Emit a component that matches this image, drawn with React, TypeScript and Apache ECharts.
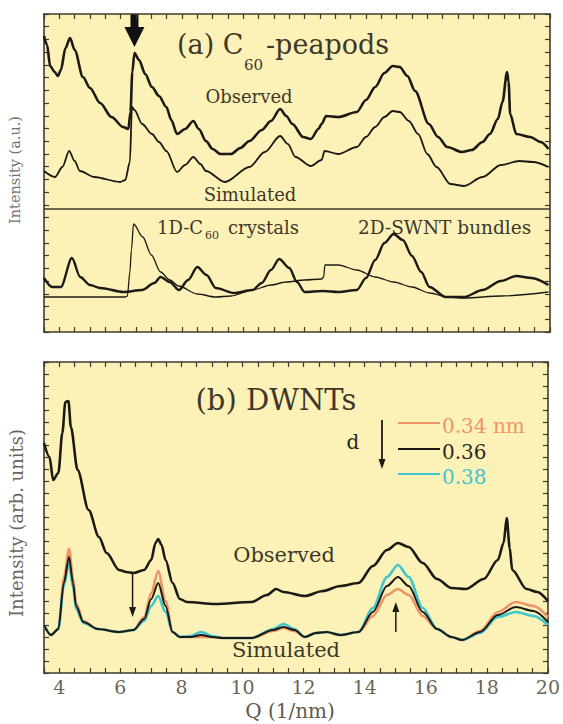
import React, { useEffect, useRef } from "react";
import * as echarts from "echarts";

// ---------- Panel (a): C60-peapods ----------
const obsA_Q = [3.5,3.6,3.7,3.85,3.95,4.05,4.2,4.35,4.5,4.77,5.0,5.33,5.7,6.08,6.25,6.32,6.38,6.45,6.6,6.8,7.02,7.25,7.49,7.65,7.84,8.1,8.37,8.55,8.78,9.0,9.25,9.6,9.9,10.2,10.6,10.9,11.2,11.4,11.6,11.95,12.2,12.45,12.55,12.7,13.1,13.7,14.0,14.3,14.6,14.87,15.1,15.35,15.6,16.05,16.35,16.65,17.13,17.45,17.8,18.04,18.3,18.45,18.6,18.65,18.7,18.9,19.35,19.7,19.95];
const obsA_I = [296,287,266,260,256,262,284,294,282,255,244,229,215,205,203,220,260,279,272,258,245,236,225,212,198,203,211,203,191,183,178,178,184,191,202,211,223,216,208,195,193,203,208,216,215,220,232,245,259,266,265,256,241,208,195,185,180,182,190,198,213,230,260,250,218,198,195,190,183];

const simA_Q = [3.5,3.86,4.1,4.32,4.5,4.67,5.14,5.98,6.15,6.3,6.37,6.45,6.7,7.02,7.25,7.49,7.84,8.1,8.37,8.6,8.78,9.4,10.2,10.7,11.2,11.45,11.7,12.2,12.55,12.65,13.1,13.7,14.0,14.3,14.6,14.87,15.1,15.4,15.7,16.0,16.3,16.75,17.2,17.8,18.4,19.0,19.45,19.95];
const simA_I = [161,155,165,181,171,161,155,150,152,170,225,222,208,198,190,181,160,167,175,168,161,150,165,180,196,188,175,166,172,181,178,185,195,205,215,221,220,211,198,178,165,148,146,155,167,171,170,165];

const c1D_Q = [3.5,6.15,6.22,6.3,6.35,6.42,6.72,7.0,7.3,7.6,7.89,8.5,9.1,9.6,10.3,10.9,11.4,12.0,12.55,12.62,12.66,13.1,13.7,14.3,14.9,15.5,16.07,16.66,17.2,18.4,19.95];
const c1D_I = [35,35,36,60,82,108,95,77,60,52,46,38,35,36,42,47,50,52,53,55,67,67,62,55,50,45,39,35,34,36,40];

const c2D_Q = [3.5,3.77,4.05,4.41,4.68,5.0,5.33,6.1,6.7,7.1,7.3,7.6,7.9,8.2,8.5,8.8,9.1,9.7,10.3,10.6,10.9,11.17,11.5,11.75,12.0,12.6,13.1,13.7,14.0,14.3,14.6,14.9,15.2,15.5,15.8,16.07,16.6,17.2,17.8,18.4,18.9,19.4,19.95];
const c2D_I = [54,45,45,74,55,47,44,40,42,49,55,50,42,52,65,57,44,39,42,49,62,73,64,50,40,41,40,42,54,72,89,98,92,76,60,45,35,35,42,51,56,54,47];

const dividerA = 123;

// ---------- Panel (b): DWNTs ----------
const obsB_Q = [3.5,3.68,3.8,3.97,4.1,4.2,4.3,4.38,4.6,4.96,5.3,5.55,5.96,6.2,6.43,6.78,7.01,7.15,7.24,7.35,7.48,7.71,7.95,8.18,9.1,10.3,10.8,11.1,11.34,12.04,12.63,13.2,13.8,14.27,14.73,15.09,15.44,15.9,16.37,16.84,17.31,17.9,18.36,18.55,18.65,18.75,18.83,19.3,19.65,20];
const obsB_I = [230,216,193,200,240,271,272,246,203,163,136,120,103,101,100,103,113,130,134,128,113,90,74,71,69,71,78,84,81,77,82,87,90,107,123,130,126,110,94,85,84,94,113,130,155,125,103,84,81,72];

const simB_Q = [3.5,3.73,3.97,4.15,4.32,4.45,4.55,4.79,5.26,5.96,6.43,6.78,7.01,7.24,7.48,7.71,7.95,8.3,8.65,9.0,9.35,10.3,11.0,11.34,11.7,12.04,12.4,12.75,13.2,13.8,14.27,14.73,15.09,15.44,15.9,16.37,16.84,17.19,17.78,18.36,18.95,19.53,20];
const simB_034 = [48,38,44,95,124,95,70,52,44,41,43,56,80,102,72,41,36,36,36,36,35,35,42,45,42,36,40,41,38,41,57,78,84,78,57,44,36,33,42,61,71,67,56];
const simB_036 = [48,38,44,90,116,90,67,51,44,41,43,54,74,90,67,41,36,36,38,36,35,35,43,46,43,36,40,41,38,41,61,87,96,87,61,44,36,33,41,58,66,62,51];
const simB_038 = [48,38,44,87,110,86,64,50,44,41,43,52,67,77,61,41,36,37,41,37,35,35,44,49,44,36,40,41,38,41,65,96,108,96,65,44,36,33,40,56,61,57,48];

const legendLabels = ["0.34 nm", "0.36", "0.38"];
const xTickLabels = [4, 6, 8, 10, 12, 14, 16, 18, 20];

const pairs = (q: number[], v: number[]) => q.map((x, i) => [x, v[i]]);

const INK = "#1c1a14";
const FRAME = "#3f3a2c";
const ORANGE = "#EE9468";
const CYAN = "#3EC6CE";
const BG = "#FCF1B7";
const FONT = "DejaVu Serif";
const TXT = "#3e382a";

export default function App() {
  const ref = useRef<HTMLDivElement>(null);
  useEffect(() => {
    document.body.style.margin = "0";
    const chart = echarts.init(ref.current!, null, { renderer: "svg" });

    const xCommon = (gridIndex: number, position: string, labels: boolean) => ({
      type: "value",
      gridIndex,
      position,
      min: 3.5,
      max: 20,
      interval: 0.5,
      axisLine: { show: true, onZero: false, lineStyle: { color: FRAME, width: 1.6 } },
      axisTick: { show: true, inside: true, length: 5, lineStyle: { color: FRAME, width: 1.2 } },
      axisLabel: labels
        ? {
            show: true,
            margin: 4,
            fontSize: 19,
            fontFamily: FONT,
            color: "#6b6658",
            formatter: (v: number) => (xTickLabels.indexOf(v) >= 0 ? String(v) : ""),
          }
        : { show: false },
      splitLine: { show: false },
    });
    const yCommon = (gridIndex: number, position: string, max: number, interval: number) => ({
      type: "value",
      gridIndex,
      position,
      min: 0,
      max,
      interval,
      axisLine: { show: true, onZero: false, lineStyle: { color: FRAME, width: 1.6 } },
      axisTick: { show: true, inside: true, length: 5, lineStyle: { color: FRAME, width: 1.2 } },
      axisLabel: { show: false },
      splitLine: { show: false },
    });

    const line = (name: string, data: number[][], xi: number, yi: number, color: string, width: number, extra: any = {}) => ({
      name,
      type: "line",
      xAxisIndex: xi,
      yAxisIndex: yi,
      data,
      showSymbol: false,
      smooth: 0.3,
      smoothMonotone: "x",
      lineStyle: { color, width },
      itemStyle: { color },
      silent: true,
      ...extra,
    });

    chart.setOption({
      animation: false,
      backgroundColor: "#ffffff",
      grid: [
        { left: 44, top: 14, width: 506, height: 318, show: true, backgroundColor: BG, borderWidth: 0 },
        { left: 44, top: 362, width: 506, height: 311, show: true, backgroundColor: BG, borderWidth: 0 },
      ],
      xAxis: [
        xCommon(0, "bottom", false),
        xCommon(0, "top", false),
        xCommon(1, "bottom", true),
        xCommon(1, "top", false),
      ],
      yAxis: [
        yCommon(0, "left", 318, 318 / 25),
        yCommon(0, "right", 318, 318 / 25),
        yCommon(1, "left", 311, 311 / 26),
        yCommon(1, "right", 311, 311 / 26),
      ],
      series: [
        line("Observed (a)", pairs(obsA_Q, obsA_I), 0, 0, INK, 2.6),
        line("Simulated (a)", pairs(simA_Q, simA_I), 0, 0, INK, 1.8),
        line("1D-C60 crystals", pairs(c1D_Q, c1D_I), 0, 0, INK, 1.3, {
          markLine: {
            silent: true,
            symbol: "none",
            label: { show: false },
            lineStyle: { color: FRAME, width: 1.6, type: "solid" },
            data: [{ yAxis: dividerA }],
          },
        }),
        line("2D-SWNT bundles", pairs(c2D_Q, c2D_I), 0, 0, INK, 2.4),
        line("0.34 nm", pairs(simB_Q, simB_034), 2, 2, ORANGE, 2.6),
        line("0.38", pairs(simB_Q, simB_038), 2, 2, CYAN, 2.6),
        line("0.36", pairs(simB_Q, simB_036), 2, 2, INK, 2.0),
        line("Observed (b)", pairs(obsB_Q, obsB_I), 2, 2, INK, 2.6),
      ],
    });

    const px = (g: number, q: number, v: number) => chart.convertToPixel({ gridIndex: g } as any, [q, v]) as number[];

    const aTop = px(0, 6.45, 318);
    const aHead = px(0, 6.45, 305);
    const aTip = px(0, 6.45, 285);
    const bdTop = px(1, 6.4, 100);
    const bdTip = px(1, 6.4, 56);
    const buBot = px(1, 15.02, 41);
    const buTip = px(1, 15.02, 71);

    const T = (text: string, x: number, y: number, size: number, opts: any = {}) => ({
      type: "text",
      x,
      y,
      silent: true,
      style: {
        text,
        font: `${opts.weight || "normal"} ${size}px "${FONT}"`,
        fill: opts.color || TXT,
        align: opts.align || "center",
        verticalAlign: "middle",
      },
      ...(opts.rotation ? { rotation: opts.rotation } : {}),
    });

    const graphics: any[] = [
      { type: "rect", silent: true, shape: { x: aTop[0] - 4, y: aTop[1], width: 8, height: aHead[1] - aTop[1] + 1 }, style: { fill: "#111" } },
      {
        type: "polygon",
        silent: true,
        shape: { points: [[aHead[0] - 10, aHead[1]], [aHead[0] + 10, aHead[1]], [aTip[0], aTip[1]]] },
        style: { fill: "#111" },
      },
      { type: "line", silent: true, shape: { x1: bdTop[0], y1: bdTop[1], x2: bdTip[0], y2: bdTip[1] - 8 }, style: { stroke: INK, lineWidth: 1.5 } },
      {
        type: "polygon",
        silent: true,
        shape: { points: [[bdTip[0] - 3.5, bdTip[1] - 10], [bdTip[0] + 3.5, bdTip[1] - 10], [bdTip[0], bdTip[1]]] },
        style: { fill: INK },
      },
      { type: "line", silent: true, shape: { x1: buBot[0], y1: buBot[1], x2: buTip[0], y2: buTip[1] + 8 }, style: { stroke: INK, lineWidth: 1.5 } },
      {
        type: "polygon",
        silent: true,
        shape: { points: [[buTip[0] - 3.5, buTip[1] + 10], [buTip[0] + 3.5, buTip[1] + 10], [buTip[0], buTip[1]]] },
        style: { fill: INK },
      },
      { type: "line", silent: true, shape: { x1: 382, y1: 420, x2: 382, y2: 460 }, style: { stroke: INK, lineWidth: 1.8 } },
      { type: "polygon", silent: true, shape: { points: [[378.5, 459], [385.5, 459], [382, 469]] }, style: { fill: INK } },
      { type: "line", silent: true, shape: { x1: 398, y1: 423, x2: 440, y2: 423 }, style: { stroke: ORANGE, lineWidth: 2 } },
      { type: "line", silent: true, shape: { x1: 398, y1: 449, x2: 440, y2: 449 }, style: { stroke: INK, lineWidth: 2 } },
      { type: "line", silent: true, shape: { x1: 398, y1: 474, x2: 440, y2: 474 }, style: { stroke: CYAN, lineWidth: 2 } },
      T(legendLabels[0], 442, 426, 20, { align: "left", color: ORANGE }),
      T(legendLabels[1], 442, 452, 20, { align: "left", color: "#2a271e" }),
      T(legendLabels[2], 442, 477, 20, { align: "left", color: CYAN }),
      T("d", 353, 442, 20, { color: "#2a271e" }),

      T("(a) C", 177, 44, 27, { align: "left" }),
      T("60", 244, 65, 15, { align: "left" }),
      T("-peapods", 266, 44, 27, { align: "left" }),
      T("Observed", 249, 96, 18),
      T("Simulated", 250, 194, 18),
      T("1D-C", 157, 227, 18, { align: "left" }),
      T("60", 205, 235, 11, { align: "left" }),
      T("crystals", 228, 227, 18, { align: "left" }),
      T("2D-SWNT bundles", 358, 227, 18.5, { align: "left" }),

      T("(b) DWNTs", 276, 400, 29),
      T("Observed", 284, 555, 21),
      T("Simulated", 286, 650, 21),

      T("Q (1/nm)", 290, 711, 20, { color: "#5e594c" }),
      T("Intensity (a.u.)", 15, 170, 14.5, { color: "#77726a", rotation: Math.PI / 2 }),
      T("Intensity (arb. units)", 16, 523, 18, { color: "#6b6658", rotation: Math.PI / 2 }),
    ];

    chart.setOption({ graphic: graphics });

    return () => chart.dispose();
  }, []);

  return <div ref={ref} style={{ width: 563, height: 724 }} />;
}
